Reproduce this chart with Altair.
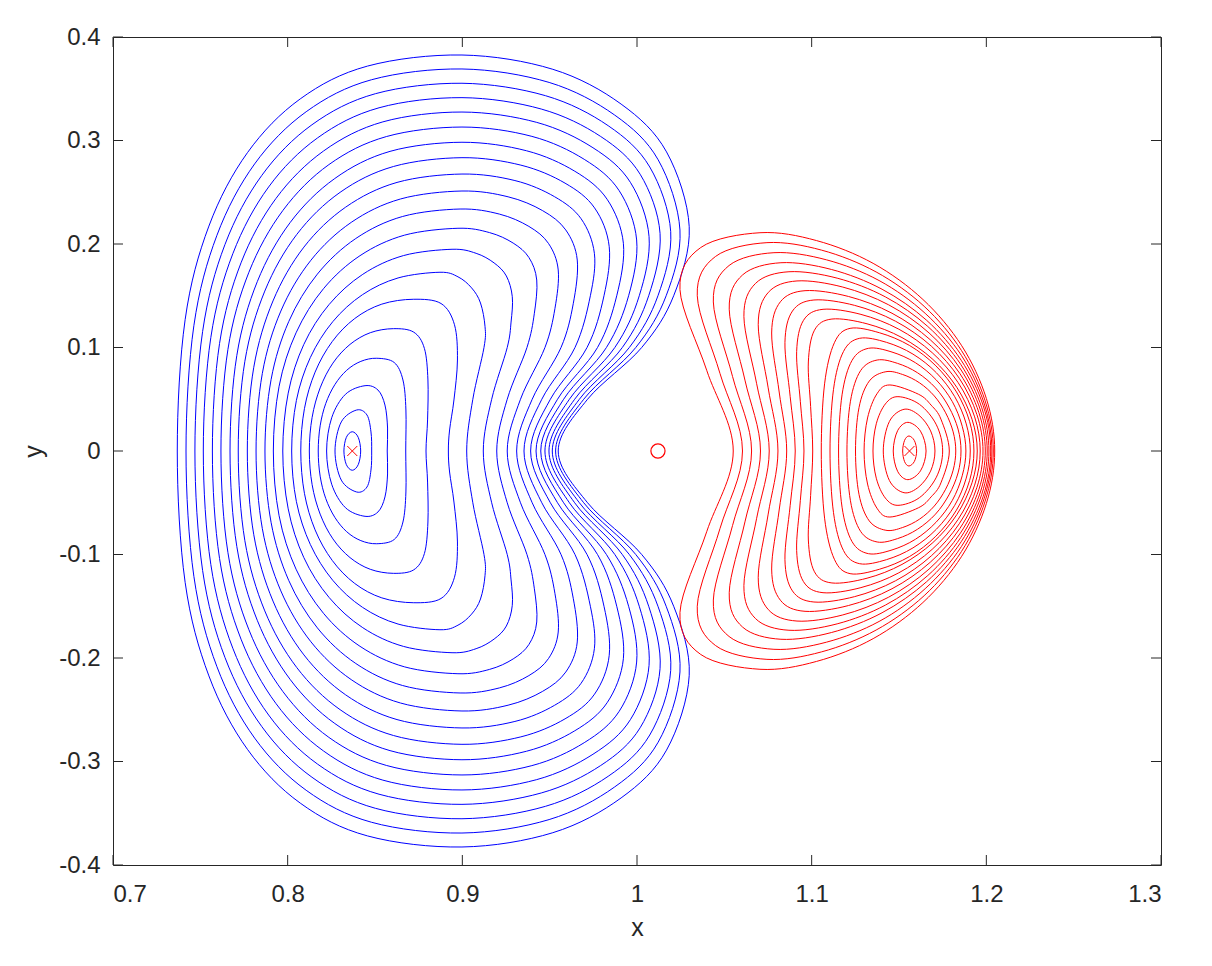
import altair as alt
import pandas as pd

# ---------------- values ----------------
# Each closed curve is symmetric about y = 0; the lists hold its upper half,
# from the left crossing of y = 0, over the top, to the right crossing of y = 0.

# Blue family (around x ≈ 0.837), 00 = outermost
b00 = [(0.7368, 0), (0.7413, 0.1269), (0.7549, 0.2173), (0.7770, 0.2883), (0.8072, 0.3402), (0.8457, 0.3719), (0.8998, 0.3826), (0.9518, 0.3688), (0.9909, 0.3352), (1.0169, 0.2890), (1.0299, 0.2167), (1.0210, 0.15), (1.0027, 0.1), (0.9717, 0.05), (0.9549, 0)]
b01 = [(0.7418, 0), (0.7463, 0.1211), (0.7595, 0.2084), (0.7811, 0.2774), (0.8106, 0.3278), (0.8480, 0.3587), (0.8998, 0.3691), (0.9497, 0.3561), (0.9872, 0.3246), (1.0121, 0.2814), (1.0246, 0.2135), (1.0167, 0.15), (0.9993, 0.1), (0.9695, 0.05), (0.9534, 0)]
b02 = [(0.7469, 0), (0.7513, 0.1154), (0.7641, 0.1995), (0.7852, 0.2663), (0.8139, 0.3152), (0.8502, 0.3452), (0.8998, 0.3553), (0.9476, 0.3433), (0.9835, 0.3143), (1.0073, 0.2744), (1.0193, 0.2119), (1.0120, 0.15), (0.9956, 0.1), (0.9670, 0.05), (0.9515, 0)]
b03 = [(0.7517, 0), (0.7560, 0.1096), (0.7686, 0.1906), (0.7891, 0.2551), (0.8171, 0.3025), (0.8523, 0.3316), (0.8998, 0.3414), (0.9452, 0.3304), (0.9792, 0.3039), (1.0018, 0.2674), (1.0132, 0.2103), (1.0067, 0.15), (0.9916, 0.1), (0.9643, 0.05), (0.9496, 0)]
b04 = [(0.7569, 0), (0.7610, 0.1039), (0.7733, 0.1818), (0.7933, 0.2440), (0.8205, 0.2898), (0.8545, 0.3180), (0.8998, 0.3275), (0.9426, 0.3175), (0.9748, 0.2930), (0.9962, 0.2596), (1.0069, 0.2071), (1.0013, 0.15), (0.9873, 0.1), (0.9613, 0.05), (0.9473, 0)]
b05 = [(0.7618, 0), (0.7658, 0.0982), (0.7778, 0.1727), (0.7973, 0.2325), (0.8236, 0.2767), (0.8565, 0.3038), (0.8998, 0.3130), (0.9398, 0.3040), (0.9698, 0.2818), (0.9898, 0.2515), (0.9998, 0.2039), (0.9952, 0.15), (0.9825, 0.1), (0.9580, 0.05), (0.9449, 0)]
b06 = [(0.7670, 0), (0.7709, 0.0924), (0.7826, 0.1636), (0.8015, 0.2209), (0.8270, 0.2633), (0.8586, 0.2895), (0.8998, 0.2983), (0.9367, 0.2901), (0.9644, 0.2703), (0.9829, 0.2432), (0.9922, 0.2007), (0.9884, 0.15), (0.9774, 0.1), (0.9545, 0.05), (0.9422, 0)]
b07 = [(0.7717, 0), (0.7755, 0.0867), (0.7869, 0.1545), (0.8052, 0.2092), (0.8300, 0.2499), (0.8606, 0.2749), (0.8998, 0.2834), (0.9335, 0.2762), (0.9588, 0.2588), (0.9757, 0.2349), (0.9841, 0.1974), (0.9811, 0.15), (0.9714, 0.1), (0.9504, 0.05), (0.9391, 0)]
b08 = [(0.7769, 0), (0.7806, 0.0809), (0.7916, 0.1450), (0.8093, 0.1970), (0.8332, 0.2356), (0.8626, 0.2595), (0.8998, 0.2676), (0.9301, 0.2613), (0.9528, 0.2457), (0.9680, 0.2244), (0.9756, 0.1910), (0.9733, 0.15), (0.9645, 0.1), (0.9455, 0.05), (0.9353, 0)]
b09 = [(0.7819, 0), (0.7855, 0.0750), (0.7961, 0.1352), (0.8133, 0.1843), (0.8364, 0.2209), (0.8646, 0.2435), (0.8998, 0.2512), (0.9262, 0.2456), (0.9460, 0.2322), (0.9592, 0.2136), (0.9658, 0.1845), (0.9635, 0.1423), (0.9565, 0.1), (0.9400, 0.05), (0.9311, 0)]
b10 = [(0.7870, 0), (0.7905, 0.0689), (0.8006, 0.1250), (0.8170, 0.1709), (0.8390, 0.2053), (0.8658, 0.2266), (0.8987, 0.2338), (0.9212, 0.2289), (0.9381, 0.2170), (0.9493, 0.2006), (0.9549, 0.1749), (0.9530, 0.1375), (0.9473, 0.1), (0.9333, 0.05), (0.9257, 0)]
b11 = [(0.7918, 0), (0.7951, 0.0626), (0.8048, 0.1142), (0.8205, 0.1568), (0.8414, 0.1887), (0.8668, 0.2085), (0.8975, 0.2152), (0.9156, 0.2110), (0.9291, 0.2009), (0.9381, 0.1870), (0.9426, 0.1652), (0.9412, 0.1326), (0.9370, 0.1), (0.9257, 0.05), (0.9197, 0)]
b12 = [(0.7972, 0), (0.8003, 0.0559), (0.8092, 0.1028), (0.8237, 0.1415), (0.8430, 0.1707), (0.8663, 0.1888), (0.8941, 0.1949), (0.9079, 0.1910), (0.9182, 0.1817), (0.9252, 0.1691), (0.9286, 0.1491), (0.9279, 0.1246), (0.9257, 0.1), (0.9168, 0.05), (0.9120, 0)]
b13 = [(0.8023, 0), (0.8050, 0.0489), (0.8130, 0.0904), (0.8258, 0.1249), (0.8428, 0.1510), (0.8632, 0.1672), (0.8872, 0.1727), (0.8975, 0.1683), (0.9053, 0.1576), (0.9104, 0.1430), (0.9130, 0.1201), (0.9124, 0.1), (0.9060, 0.05), (0.9025, 0)]
b14 = [(0.8075, 0), (0.8096, 0.0409), (0.8157, 0.0762), (0.8255, 0.1057), (0.8384, 0.1280), (0.8539, 0.1419), (0.8719, 0.1466), (0.8878, 0.1425), (0.8955, 0.1220), (0.8972, 0.0879), (0.8952, 0.0493), (0.8927, 0.0203), (0.8920, 0)]
b15 = [(0.8124, 0), (0.8140, 0.0325), (0.8186, 0.0610), (0.8259, 0.0849), (0.8357, 0.1030), (0.8473, 0.1143), (0.8605, 0.1182), (0.8722, 0.1148), (0.8783, 0.0990), (0.8803, 0.0686), (0.8801, 0.0300), (0.8792, 0)]
b16 = [(0.8175, 0), (0.8186, 0.0243), (0.8218, 0.0459), (0.8270, 0.0641), (0.8338, 0.0780), (0.8419, 0.0866), (0.8510, 0.0896), (0.8610, 0.0855), (0.8660, 0.0686), (0.8677, 0.0396), (0.8676, 0)]
b17 = [(0.8223, 0), (0.8252, 0.0321), (0.8331, 0.0548), (0.8443, 0.0631), (0.8517, 0.0589), (0.8557, 0.0444), (0.8572, 0.0222), (0.8570, 0)]
b18 = [(0.8271, 0), (0.8307, 0.0281), (0.8395, 0.0396), (0.8454, 0.0348), (0.8477, 0.0184), (0.8481, 0)]
b19 = [(0.8322, 0), (0.8336, 0.0132), (0.8370, 0.0186), (0.8404, 0.0132), (0.8418, 0)]

# Red family (around x ≈ 1.156), 00 = outermost
r00 = [(1.0551, 0), (1.0399, 0.078), (1.0246, 0.156), (1.0365, 0.1966), (1.0704, 0.2109), (1.1028, 0.2033), (1.1352, 0.1813), (1.1637, 0.1464), (1.1859, 0.1017), (1.2000, 0.0508), (1.2048, 0)]
r01 = [(1.0604, 0), (1.0475, 0.075), (1.0345, 0.150), (1.0449, 0.1879), (1.0744, 0.2013), (1.1056, 0.1941), (1.1369, 0.1730), (1.1644, 0.1398), (1.1858, 0.0970), (1.1993, 0.0485), (1.2040, 0)]
r02 = [(1.0656, 0), (1.0547, 0.072), (1.0437, 0.144), (1.0527, 0.1792), (1.0784, 0.1916), (1.1085, 0.1847), (1.1386, 0.1647), (1.1650, 0.1330), (1.1857, 0.0924), (1.1987, 0.0462), (1.2032, 0)]
r03 = [(1.0707, 0), (1.0618, 0.0685), (1.0528, 0.137), (1.0605, 0.1702), (1.0824, 0.1819), (1.1113, 0.1754), (1.1403, 0.1563), (1.1658, 0.1263), (1.1856, 0.0877), (1.1982, 0.0438), (1.2025, 0)]
r04 = [(1.0757, 0), (1.0685, 0.065), (1.0612, 0.130), (1.0679, 0.1620), (1.0870, 0.1732), (1.1146, 0.1670), (1.1422, 0.1489), (1.1665, 0.1203), (1.1854, 0.0835), (1.1974, 0.0417), (1.2015, 0)]
r05 = [(1.0807, 0), (1.0751, 0.061), (1.0694, 0.122), (1.0752, 0.1533), (1.0916, 0.1643), (1.1178, 0.1584), (1.1441, 0.1412), (1.1672, 0.1141), (1.1852, 0.0792), (1.1966, 0.0396), (1.2005, 0)]
r06 = [(1.0857, 0), (1.0814, 0.057), (1.0771, 0.114), (1.0821, 0.1442), (1.0962, 0.1549), (1.1211, 0.1493), (1.1460, 0.1331), (1.1679, 0.1075), (1.1849, 0.0747), (1.1957, 0.0373), (1.1994, 0)]
r07 = [(1.0906, 0), (1.0877, 0.0525), (1.0847, 0.105), (1.0890, 0.1352), (1.1013, 0.1459), (1.1246, 0.1407), (1.1480, 0.1254), (1.1685, 0.1013), (1.1845, 0.0703), (1.1946, 0.0352), (1.1981, 0)]
r08 = [(1.0956, 0), (1.0935, 0.048), (1.0914, 0.096), (1.0953, 0.1262), (1.1065, 0.1369), (1.1282, 0.1320), (1.1499, 0.1177), (1.1690, 0.0950), (1.1839, 0.0660), (1.1933, 0.0330), (1.1965, 0)]
r09 = [(1.1006, 0), (1.0994, 0.043), (1.0981, 0.086), (1.1016, 0.1167), (1.1116, 0.1275), (1.1317, 0.1229), (1.1517, 0.1096), (1.1694, 0.0885), (1.1831, 0.0615), (1.1918, 0.0307), (1.1948, 0)]
r10 = [(1.1055, 0), (1.1074, 0.0649), (1.1130, 0.1046), (1.1220, 0.1185), (1.1389, 0.1142), (1.1561, 0.1019), (1.1711, 0.0823), (1.1829, 0.0571), (1.1904, 0.0286), (1.1929, 0)]
r11 = [(1.1105, 0), (1.1125, 0.0596), (1.1182, 0.0961), (1.1275, 0.1089), (1.1428, 0.1050), (1.1580, 0.0936), (1.1714, 0.0756), (1.1819, 0.0525), (1.1885, 0.0262), (1.1908, 0)]
r12 = [(1.1154, 0), (1.1174, 0.0543), (1.1231, 0.0875), (1.1325, 0.0992), (1.1460, 0.0956), (1.1594, 0.0853), (1.1712, 0.0689), (1.1805, 0.0478), (1.1862, 0.0239), (1.1883, 0)]
r13 = [(1.1202, 0), (1.1222, 0.0481), (1.1280, 0.0776), (1.1375, 0.0879), (1.1491, 0.0847), (1.1606, 0.0756), (1.1709, 0.0610), (1.1786, 0.0424), (1.1838, 0.0212), (1.1855, 0)]
r14 = [(1.1251, 0), (1.1271, 0.0419), (1.1330, 0.0676), (1.1425, 0.0766), (1.1521, 0.0739), (1.1618, 0.0658), (1.1702, 0.0532), (1.1767, 0.0369), (1.1810, 0.0185), (1.1825, 0)]
r15 = [(1.1300, 0), (1.1320, 0.0319), (1.1374, 0.0553), (1.1448, 0.0638), (1.1612, 0.0548), (1.1684, 0.0443), (1.1740, 0.0308), (1.1788, 0)]
r16 = [(1.1351, 0), (1.1370, 0.0263), (1.1422, 0.0455), (1.1494, 0.0525), (1.1617, 0.0451), (1.1714, 0.0253), (1.1750, 0)]
r17 = [(1.1410, 0), (1.1445, 0.0285), (1.1529, 0.0403), (1.1614, 0.0346), (1.1681, 0.0194), (1.1706, 0)]
r18 = [(1.1467, 0), (1.1492, 0.0196), (1.1551, 0.0277), (1.1623, 0.0192), (1.1655, 0)]
r19 = [(1.1521, 0), (1.1532, 0.0103), (1.1557, 0.0145), (1.1588, 0.0101), (1.1601, 0)]

blue_curves = [b00, b01, b02, b03, b04, b05, b06, b07, b08, b09,
               b10, b11, b12, b13, b14, b15, b16, b17, b18, b19]
red_curves = [r00, r01, r02, r03, r04, r05, r06, r07, r08, r09,
              r10, r11, r12, r13, r14, r15, r16, r17, r18, r19]

# Markers
cross_x = [0.837, 1.156]
cross_y = [0.0, 0.0]
circle_x = [1.012]
circle_y = [0.0]

x_ticks = [0.7, 0.8, 0.9, 1.0, 1.1, 1.2, 1.3]
y_ticks = [-0.4, -0.3, -0.2, -0.1, 0.0, 0.1, 0.2, 0.3, 0.4]


def closed_rows(family, curves):
    rows = []
    for i, upper in enumerate(curves):
        lower = [(x, -y) for (x, y) in reversed(upper) if y > 0]
        for k, (x, y) in enumerate(list(upper) + lower):
            rows.append({"curve": f"{family}{i:02d}", "fam": family, "ord": k, "x": x, "y": y})
    return rows


df = pd.DataFrame(closed_rows("blue", blue_curves) + closed_rows("red", red_curves))

W, H = 1048, 828
INK = "#262626"
FONT = "Liberation Sans"

xscale = alt.Scale(domain=[0.7, 1.3], nice=False, zero=False)
yscale = alt.Scale(domain=[-0.4, 0.4], nice=False, zero=False)
label_expr = "datum.value == 0 ? '0' : toString(round(datum.value * 10) / 10)"

xaxis = alt.Axis(values=x_ticks, ticks=False, domain=False, grid=False,
                 labelExpr=label_expr, labelFontSize=24, labelFont=FONT, labelColor=INK,
                 labelPadding=17, titleFontSize=25, titleFont=FONT, titleColor=INK,
                 titleFontWeight="normal", titlePadding=9)
yaxis = alt.Axis(values=y_ticks, ticks=False, domain=False, grid=False,
                 labelExpr=label_expr, labelFontSize=24, labelFont=FONT, labelColor=INK,
                 labelPadding=13, titleFontSize=25, titleFont=FONT, titleColor=INK,
                 titleFontWeight="normal", titlePadding=12)


def X(field):
    return alt.X(field, type="quantitative", scale=xscale, axis=xaxis, title="x")


def Y(field):
    return alt.Y(field, type="quantitative", scale=yscale, axis=yaxis, title="y")


curves = alt.Chart(df).mark_line(interpolate="cardinal-closed", strokeWidth=1).encode(
    x=X("x"), y=Y("y"),
    detail="curve:N",
    order="ord:Q",
    color=alt.Color("fam:N", scale=alt.Scale(domain=["blue", "red"], range=["#0000ff", "#ff0000"]),
                    legend=None),
)

xt = pd.DataFrame({"x": x_ticks})
yt = pd.DataFrame({"y": y_ticks})
tick_bottom = alt.Chart(xt).mark_rule(color=INK, strokeWidth=1).encode(
    x=X("x"), y=alt.value(H), y2=alt.value(H - 10))
tick_top = alt.Chart(xt).mark_rule(color=INK, strokeWidth=1).encode(
    x=X("x"), y=alt.value(0), y2=alt.value(10))
tick_left = alt.Chart(yt).mark_rule(color=INK, strokeWidth=1).encode(
    y=Y("y"), x=alt.value(0), x2=alt.value(10))
tick_right = alt.Chart(yt).mark_rule(color=INK, strokeWidth=1).encode(
    y=Y("y"), x=alt.value(W), x2=alt.value(W - 10))

crosses = alt.Chart(pd.DataFrame({"x": cross_x, "y": cross_y})).mark_point(
    shape="M-1,-1L1,1M-1,1L1,-1", size=100, filled=False, color="#ff0000", strokeWidth=1, opacity=1
).encode(x=X("x"), y=Y("y"))
circles = alt.Chart(pd.DataFrame({"x": circle_x, "y": circle_y})).mark_point(
    shape="circle", size=200, filled=False, color="#ff0000", strokeWidth=1.2, opacity=1
).encode(x=X("x"), y=Y("y"))

chart = alt.layer(curves, tick_bottom, tick_top, tick_left, tick_right, crosses, circles).properties(
    width=W, height=H,
    padding={"left": 105, "top": 29, "right": 40, "bottom": 80},
    autosize=alt.AutoSizeParams(type="none"),
    background="white",
).configure_view(stroke=INK, strokeWidth=1)

chart.save("out.html", embed_options={"renderer": "svg", "actions": False})
